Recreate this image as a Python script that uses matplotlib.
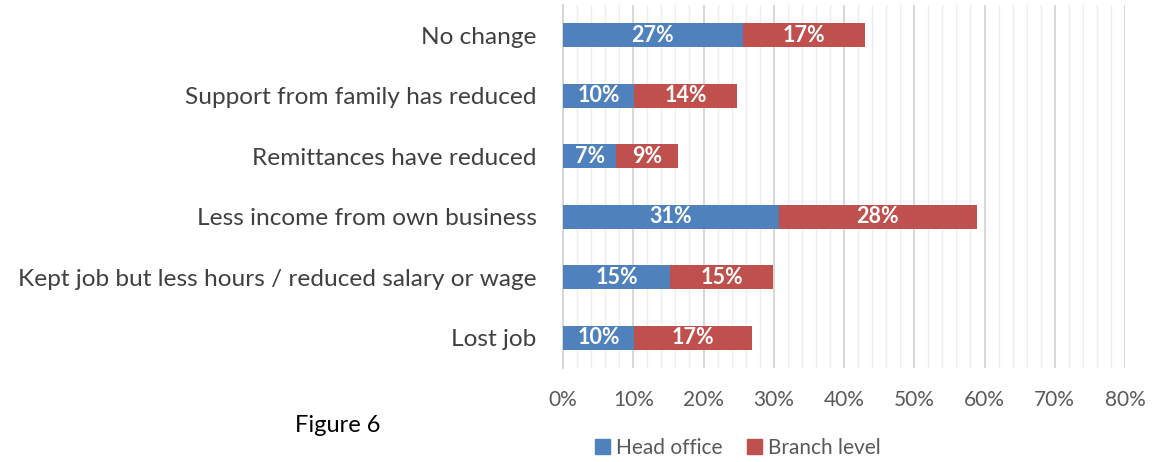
import matplotlib
matplotlib.use("Agg")
import matplotlib.pyplot as plt
from matplotlib.ticker import MultipleLocator, FuncFormatter
from matplotlib.patches import Patch

categories = ["No change", "Support from family has reduced", "Remittances have reduced",
              "Less income from own business", "Kept job but less hours / reduced salary or wage",
              "Lost job"]
head_office = [25.6, 10.1, 7.6, 30.7, 15.3, 10.1]
branch_level = [17.4, 14.7, 8.7, 28.2, 14.6, 16.8]
head_labels = ["27%", "10%", "7%", "31%", "15%", "10%"]
branch_labels = ["17%", "14%", "9%", "28%", "15%", "17%"]
series_names = ["Head office", "Branch level"]

plt.rcParams['font.family'] = ['Lato', 'DejaVu Sans']

BLUE = "#4F81BD"
RED = "#C0504D"

fig = plt.figure(figsize=(11.53, 4.62), dpi=100)
ax = fig.add_axes([563/1153, 1-368/462, (1125-563)/1153, (368-5)/462])

y = list(range(len(categories)))
h = 0.39
ax.barh(y, head_office, height=h, color=BLUE, zorder=3)
ax.barh(y, branch_level, left=head_office, height=h, color=RED, zorder=3)

for i in y:
    ax.text(head_office[i] / 2, i, head_labels[i], ha="center", va="center",
            color="white", fontsize=15.5, fontweight="bold", zorder=4)
    ax.text(head_office[i] + branch_level[i] / 2, i, branch_labels[i], ha="center",
            va="center", color="white", fontsize=15.5, fontweight="bold", zorder=4)

ax.set_xlim(0, 80)
ax.set_ylim(len(categories) - 0.5, -0.5)
ax.xaxis.set_major_locator(MultipleLocator(10))
ax.xaxis.set_minor_locator(MultipleLocator(2))
ax.xaxis.set_major_formatter(FuncFormatter(lambda v, p: f"{v:.0f}%"))
ax.grid(axis="x", which="major", color="#D4D4D4", linewidth=1.3, zorder=0)
ax.grid(axis="x", which="minor", color="#EDEDED", linewidth=1.0, zorder=0)
ax.set_axisbelow(True)
for s in ["top", "right", "bottom"]:
    ax.spines[s].set_visible(False)
ax.spines["left"].set_color("#D4D4D4")
ax.spines["left"].set_linewidth(1.3)

ax.set_yticks(y)
ax.set_yticklabels(categories, fontsize=17.6, color="#404040")
ax.tick_params(axis="y", length=0, pad=19)
ax.tick_params(axis="x", which="both", length=0, labelsize=15, labelcolor="#595959", pad=16)

handles = [Patch(color=BLUE), Patch(color=RED)]
fig.legend(handles, series_names, loc="center", bbox_to_anchor=(738/1153, 1-448/462),
           ncol=2, frameon=False, fontsize=15, handlelength=0.7, handleheight=0.7,
           handletextpad=0.3, columnspacing=1.2, labelcolor="#595959")

fig.text(338/1153, 1-425/462, "Figure 6", ha="center", va="center", fontsize=17, color="black")

fig.savefig("out.png", dpi=100)
